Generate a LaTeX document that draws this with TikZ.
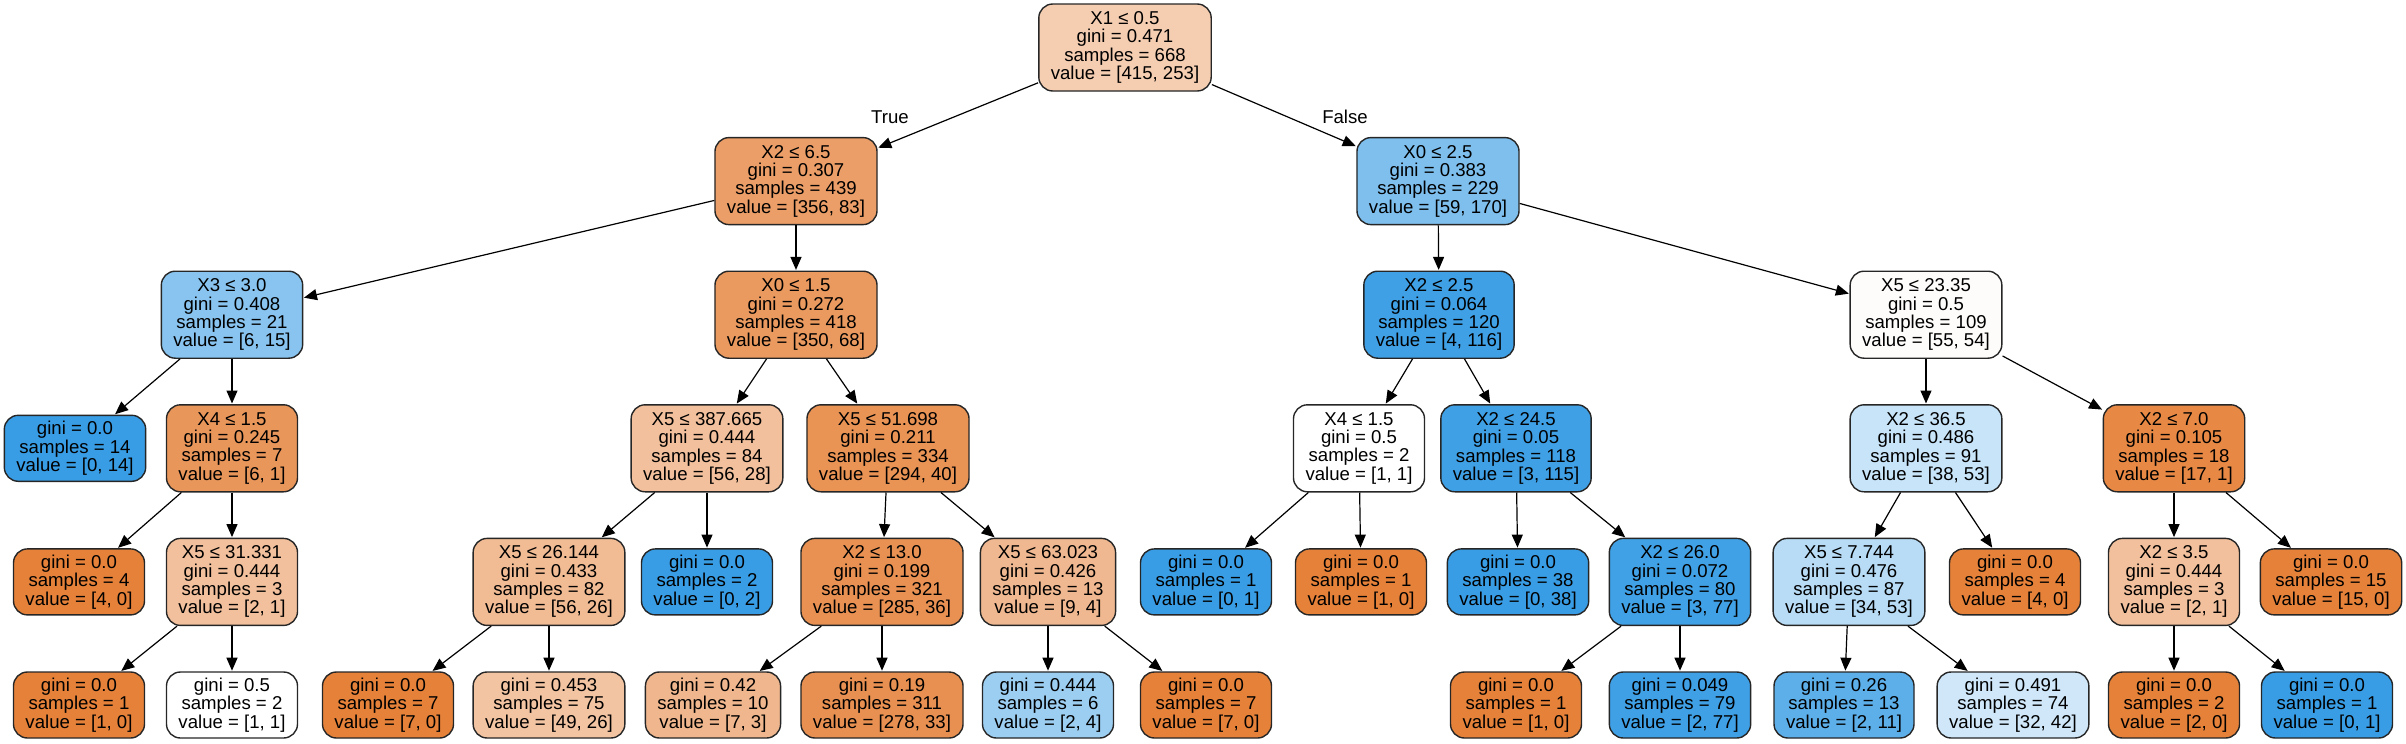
\documentclass[tikz,border=0pt]{standalone}
\usepackage{fontspec}
\setmainfont{Liberation Sans}
\usepackage{xcolor}
\usepackage{tikz}
\usetikzlibrary{arrows.meta}
\definecolor{clase0}{RGB}{229,129,57}
\definecolor{clase1}{RGB}{57,157,229}
\tikzset{
  nodo/.style={draw=black!85,line width=0.7pt,rounded corners=7pt,align=center,
    inner xsep=6pt,inner ysep=1pt,font=\fontsize{9.3}{9.17}\selectfont},
  corte/.style={nodo,minimum height=43.5pt},
  hoja/.style={nodo,minimum height=33pt},
  arista/.style={-{Triangle[length=6.5pt,width=5.5pt]},line width=0.6pt,shorten >=0.3pt},
  etiq/.style={font=\fontsize{9.3}{9.17}\selectfont}
}

\begin{document}
\begin{tikzpicture}[x=0.5pt,y=-0.5pt]
\useasboundingbox (0,0) rectangle (2406,744);
% nivel 0 y 1
\node[corte,fill=clase0!39!white] (r) at (1125,47.5) {X1 ≤ 0.5\\gini = 0.471\\samples = 668\\value = [415, 253]};
\node[corte,fill=clase0!77!white] (l1a) at (796,181.1) {X2 ≤ 6.5\\gini = 0.307\\samples = 439\\value = [356, 83]};
\node[corte,fill=clase1!65!white] (l1b) at (1438,181.1) {X0 ≤ 2.5\\gini = 0.383\\samples = 229\\value = [59, 170]};
% nivel 2
\node[corte,fill=clase1!60!white] (l2a) at (232,314.7) {X3 ≤ 3.0\\gini = 0.408\\samples = 21\\value = [6, 15]};
\node[corte,fill=clase0!81!white] (l2b) at (796,314.7) {X0 ≤ 1.5\\gini = 0.272\\samples = 418\\value = [350, 68]};
\node[corte,fill=clase1!97!white] (l2c) at (1439,314.7) {X2 ≤ 2.5\\gini = 0.064\\samples = 120\\value = [4, 116]};
\node[corte,fill=clase0!2!white] (l2d) at (1926,314.7) {X5 ≤ 23.35\\gini = 0.5\\samples = 109\\value = [55, 54]};
% nivel 3
\node[hoja,fill=clase1] (l3a) at (75,448.3) {gini = 0.0\\samples = 14\\value = [0, 14]};
\node[corte,fill=clase0!83!white] (l3b) at (232,448.3) {X4 ≤ 1.5\\gini = 0.245\\samples = 7\\value = [6, 1]};
\node[corte,fill=clase0!50!white] (l3c) at (707,448.3) {X5 ≤ 387.665\\gini = 0.444\\samples = 84\\value = [56, 28]};
\node[corte,fill=clase0!86!white] (l3d) at (888,448.3) {X5 ≤ 51.698\\gini = 0.211\\samples = 334\\value = [294, 40]};
\node[corte,fill=white] (l3e) at (1359,448.3) {X4 ≤ 1.5\\gini = 0.5\\samples = 2\\value = [1, 1]};
\node[corte,fill=clase1!97!white] (l3f) at (1516,448.3) {X2 ≤ 24.5\\gini = 0.05\\samples = 118\\value = [3, 115]};
\node[corte,fill=clase1!28!white] (l3g) at (1926,448.3) {X2 ≤ 36.5\\gini = 0.486\\samples = 91\\value = [38, 53]};
\node[corte,fill=clase0!94!white] (l3h) at (2174,448.3) {X2 ≤ 7.0\\gini = 0.105\\samples = 18\\value = [17, 1]};
% nivel 4
\node[hoja,fill=clase0] (l4a) at (79,581.9) {gini = 0.0\\samples = 4\\value = [4, 0]};
\node[corte,fill=clase0!50!white] (l4b) at (232,581.9) {X5 ≤ 31.331\\gini = 0.444\\samples = 3\\value = [2, 1]};
\node[corte,fill=clase0!54!white] (l4c) at (549,581.9) {X5 ≤ 26.144\\gini = 0.433\\samples = 82\\value = [56, 26]};
\node[hoja,fill=clase1] (l4d) at (707,581.9) {gini = 0.0\\samples = 2\\value = [0, 2]};
\node[corte,fill=clase0!87!white] (l4e) at (882,581.9) {X2 ≤ 13.0\\gini = 0.199\\samples = 321\\value = [285, 36]};
\node[corte,fill=clase0!56!white] (l4f) at (1048,581.9) {X5 ≤ 63.023\\gini = 0.426\\samples = 13\\value = [9, 4]};
\node[hoja,fill=clase1] (l4g) at (1206,581.9) {gini = 0.0\\samples = 1\\value = [0, 1]};
\node[hoja,fill=clase0] (l4h) at (1361,581.9) {gini = 0.0\\samples = 1\\value = [1, 0]};
\node[hoja,fill=clase1] (l4i) at (1518,581.9) {gini = 0.0\\samples = 38\\value = [0, 38]};
\node[corte,fill=clase1!96!white] (l4j) at (1680,581.9) {X2 ≤ 26.0\\gini = 0.072\\samples = 80\\value = [3, 77]};
\node[corte,fill=clase1!36!white] (l4k) at (1849,581.9) {X5 ≤ 7.744\\gini = 0.476\\samples = 87\\value = [34, 53]};
\node[hoja,fill=clase0] (l4l) at (2015,581.9) {gini = 0.0\\samples = 4\\value = [4, 0]};
\node[corte,fill=clase0!50!white] (l4m) at (2174,581.9) {X2 ≤ 3.5\\gini = 0.444\\samples = 3\\value = [2, 1]};
\node[hoja,fill=clase0] (l4n) at (2331,581.9) {gini = 0.0\\samples = 15\\value = [15, 0]};
% nivel 5
\node[hoja,fill=clase0] (l5a) at (79,705) {gini = 0.0\\samples = 1\\value = [1, 0]};
\node[hoja,fill=white] (l5b) at (232,705) {gini = 0.5\\samples = 2\\value = [1, 1]};
\node[hoja,fill=clase0] (l5c) at (388,705) {gini = 0.0\\samples = 7\\value = [7, 0]};
\node[hoja,fill=clase0!47!white] (l5d) at (549,705) {gini = 0.453\\samples = 75\\value = [49, 26]};
\node[hoja,fill=clase0!57!white] (l5e) at (713,705) {gini = 0.42\\samples = 10\\value = [7, 3]};
\node[hoja,fill=clase0!88!white] (l5f) at (882,705) {gini = 0.19\\samples = 311\\value = [278, 33]};
\node[hoja,fill=clase1!50!white] (l5g) at (1048,705) {gini = 0.444\\samples = 6\\value = [2, 4]};
\node[hoja,fill=clase0] (l5h) at (1206,705) {gini = 0.0\\samples = 7\\value = [7, 0]};
\node[hoja,fill=clase0] (l5i) at (1516,705) {gini = 0.0\\samples = 1\\value = [1, 0]};
\node[hoja,fill=clase1!97!white] (l5j) at (1680,705) {gini = 0.049\\samples = 79\\value = [2, 77]};
\node[hoja,fill=clase1!82!white] (l5k) at (1844,705) {gini = 0.26\\samples = 13\\value = [2, 11]};
\node[hoja,fill=clase1!24!white] (l5l) at (2013,705) {gini = 0.491\\samples = 74\\value = [32, 42]};
\node[hoja,fill=clase0] (l5m) at (2174,705) {gini = 0.0\\samples = 2\\value = [2, 0]};
\node[hoja,fill=clase1] (l5n) at (2327,705) {gini = 0.0\\samples = 1\\value = [0, 1]};
% aristas
\draw[arista] (r) -- (l1a); \draw[arista] (r) -- (l1b);
\node[etiq] (vt) at (890,117) {True};
\node[etiq] (vf) at (1345,117) {False};
\draw[arista] (l1a) -- (l2a); \draw[arista] (l1a) -- (l2b);
\draw[arista] (l1b) -- (l2c); \draw[arista] (l1b) -- (l2d);
\draw[arista] (l2a) -- (l3a); \draw[arista] (l2a) -- (l3b);
\draw[arista] (l2b) -- (l3c); \draw[arista] (l2b) -- (l3d);
\draw[arista] (l2c) -- (l3e); \draw[arista] (l2c) -- (l3f);
\draw[arista] (l2d) -- (l3g); \draw[arista] (l2d) -- (l3h);
\draw[arista] (l3b) -- (l4a); \draw[arista] (l3b) -- (l4b);
\draw[arista] (l3c) -- (l4c); \draw[arista] (l3c) -- (l4d);
\draw[arista] (l3d) -- (l4e); \draw[arista] (l3d) -- (l4f);
\draw[arista] (l3e) -- (l4g); \draw[arista] (l3e) -- (l4h);
\draw[arista] (l3f) -- (l4i); \draw[arista] (l3f) -- (l4j);
\draw[arista] (l3g) -- (l4k); \draw[arista] (l3g) -- (l4l);
\draw[arista] (l3h) -- (l4m); \draw[arista] (l3h) -- (l4n);
\draw[arista] (l4b) -- (l5a); \draw[arista] (l4b) -- (l5b);
\draw[arista] (l4c) -- (l5c); \draw[arista] (l4c) -- (l5d);
\draw[arista] (l4e) -- (l5e); \draw[arista] (l4e) -- (l5f);
\draw[arista] (l4f) -- (l5g); \draw[arista] (l4f) -- (l5h);
\draw[arista] (l4j) -- (l5i); \draw[arista] (l4j) -- (l5j);
\draw[arista] (l4k) -- (l5k); \draw[arista] (l4k) -- (l5l);
\draw[arista] (l4m) -- (l5m); \draw[arista] (l4m) -- (l5n);
\end{tikzpicture}
\end{document}
